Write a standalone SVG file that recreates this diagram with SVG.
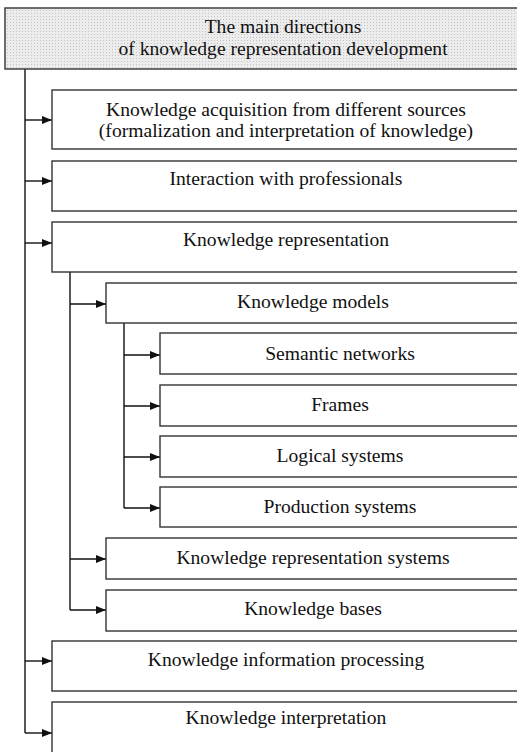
<svg xmlns="http://www.w3.org/2000/svg" width="517" height="752" viewBox="0 0 517 752">
<style>
.box{fill:#fff;stroke:#333;stroke-width:1.4}
.t{font-family:'Liberation Serif','DejaVu Serif',serif;font-size:19.6px;fill:#111;text-anchor:middle}
.c{fill:none;stroke:#111;stroke-width:1.4}
</style>
<defs>
<pattern id="dots" width="3" height="3" patternUnits="userSpaceOnUse">
<rect width="3" height="3" fill="#ececec"/>
<rect x="1" y="1" width="1" height="1" fill="#c4c4c4"/>
</pattern>
<marker id="ah" viewBox="0 0 10 8" refX="10" refY="4" markerWidth="10" markerHeight="8" markerUnits="userSpaceOnUse" orient="auto">
<path d="M0,0L10,4L0,8z" fill="#111"/>
</marker>
</defs>
<g id="connectors">
<path class="c" d="M25,69V733"/>
<path class="c" d="M25,120H52" marker-end="url(#ah)"/>
<path class="c" d="M25,181H52" marker-end="url(#ah)"/>
<path class="c" d="M25,243H52" marker-end="url(#ah)"/>
<path class="c" d="M25,661H52" marker-end="url(#ah)"/>
<path class="c" d="M25,733H52" marker-end="url(#ah)"/>
<path class="c" d="M70,272V610"/>
<path class="c" d="M70,304H106" marker-end="url(#ah)"/>
<path class="c" d="M70,559H106" marker-end="url(#ah)"/>
<path class="c" d="M70,610H106" marker-end="url(#ah)"/>
<path class="c" d="M124,323V508"/>
<path class="c" d="M124,355H160" marker-end="url(#ah)"/>
<path class="c" d="M124,406H160" marker-end="url(#ah)"/>
<path class="c" d="M124,457H160" marker-end="url(#ah)"/>
<path class="c" d="M124,508H160" marker-end="url(#ah)"/>
</g>
<g id="root">
<rect x="5" y="8" width="560" height="61" fill="url(#dots)" stroke="#333" stroke-width="1.4"/>
<text class="t" x="283" y="33">The main directions</text>
<text class="t" x="283" y="55">of knowledge representation development</text>
</g>
<g id="acquisition">
<rect class="box" x="52" y="90" width="480" height="59"/>
<text class="t" x="286" y="116">Knowledge acquisition from different sources</text>
<text class="t" x="286" y="137">(formalization and interpretation of knowledge)</text>
</g>
<g id="interaction">
<rect class="box" x="52" y="161" width="480" height="50"/>
<text class="t" x="286" y="185">Interaction with professionals</text>
</g>
<g id="representation">
<rect class="box" x="52" y="222" width="480" height="50"/>
<text class="t" x="286" y="246">Knowledge representation</text>
</g>
<g id="models">
<rect class="box" x="106" y="283" width="430" height="40"/>
<text class="t" x="313" y="308">Knowledge models</text>
</g>
<g id="semantic">
<rect class="box" x="160" y="333" width="380" height="41"/>
<text class="t" x="340" y="360">Semantic networks</text>
</g>
<g id="frames">
<rect class="box" x="160" y="385" width="380" height="41"/>
<text class="t" x="340" y="411">Frames</text>
</g>
<g id="logical">
<rect class="box" x="160" y="436" width="380" height="41"/>
<text class="t" x="340" y="462">Logical systems</text>
</g>
<g id="production">
<rect class="box" x="160" y="487" width="380" height="40"/>
<text class="t" x="340" y="513">Production systems</text>
</g>
<g id="krs">
<rect class="box" x="106" y="538" width="430" height="41"/>
<text class="t" x="313" y="564">Knowledge representation systems</text>
</g>
<g id="bases">
<rect class="box" x="106" y="590" width="430" height="41"/>
<text class="t" x="313" y="615">Knowledge bases</text>
</g>
<g id="processing">
<rect class="box" x="52" y="641" width="480" height="50"/>
<text class="t" x="286" y="666">Knowledge information processing</text>
</g>
<g id="interpretation">
<rect class="box" x="52" y="702" width="480" height="70"/>
<text class="t" x="286" y="724">Knowledge interpretation</text>
</g>
</svg>
